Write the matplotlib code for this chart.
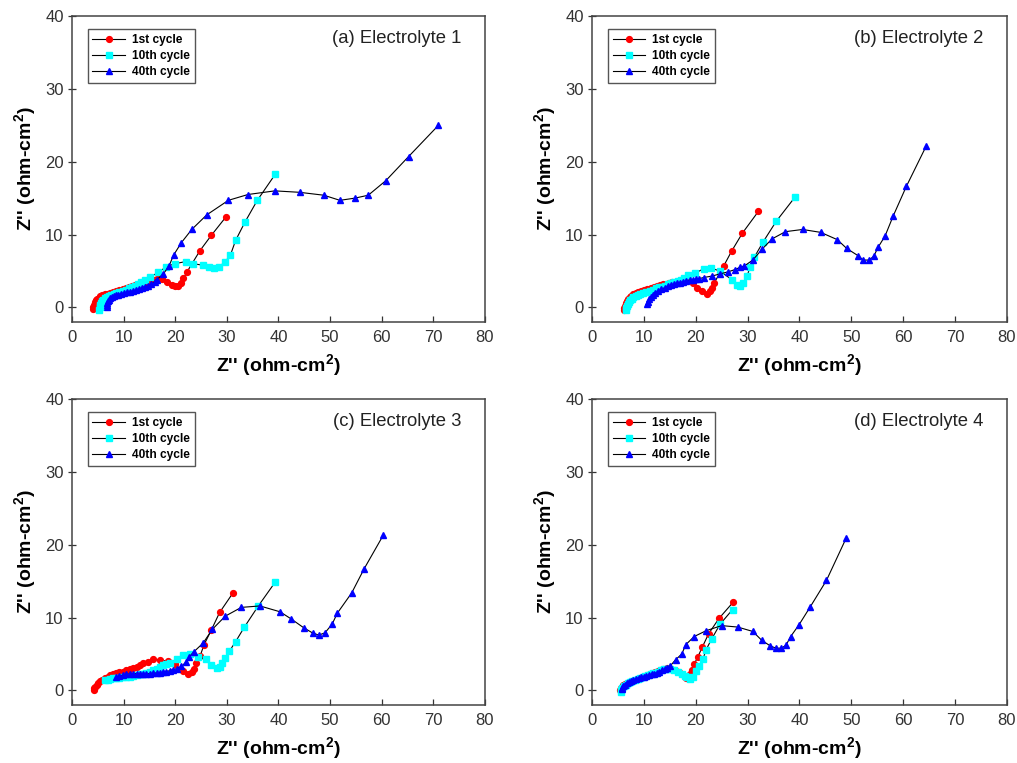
import matplotlib
matplotlib.use("Agg")
import matplotlib.pyplot as plt

plt.rcParams['font.family'] = ['Liberation Sans', 'DejaVu Sans']
plt.rcParams['mathtext.fontset'] = 'custom'
plt.rcParams['mathtext.rm'] = 'Liberation Sans'
plt.rcParams['mathtext.bf'] = 'Liberation Sans:bold'

# (a) Electrolyte 1
a_x1 = [4.1, 4.15, 4.25, 4.4, 4.6, 4.85, 5.15, 5.5, 5.9, 6.35, 6.85, 7.4, 8.0, 8.6, 9.2, 9.8, 10.4, 11.0, 11.6, 12.2,
        12.8, 13.4, 14.0, 14.6, 15.2, 15.8, 16.4, 17.0, 17.5, 18.4, 19.3, 20.0, 20.6, 21.1, 21.6, 22.3, 24.8, 27.0, 29.8]
a_y1 = [-0.2, 0.1, 0.4, 0.7, 0.95, 1.15, 1.35, 1.5, 1.65, 1.8, 1.9, 2.0, 2.15, 2.3, 2.4, 2.5, 2.65, 2.8, 2.9, 3.05,
        3.15, 3.3, 3.4, 3.55, 3.65, 3.8, 3.9, 4.0, 3.9, 3.5, 3.1, 2.9, 3.0, 3.4, 4.0, 4.9, 7.8, 9.9, 12.4]
a_x10 = [5.3, 5.35, 5.45, 5.6, 5.8, 6.05, 6.35, 6.7, 7.1, 7.55, 8.05, 8.6, 9.2, 9.8, 10.4, 11.0, 11.6, 12.2, 12.8, 13.4,
         14.1, 15.2, 16.7, 18.3, 19.9, 22.1, 23.5, 25.3, 26.6, 27.5, 28.5, 29.6, 30.7, 31.7, 33.5, 35.9, 39.4]
a_y10 = [-0.3, 0.0, 0.3, 0.6, 0.85, 1.05, 1.25, 1.4, 1.55, 1.7, 1.85, 2.0, 2.15, 2.3, 2.45, 2.6, 2.8, 3.0, 3.2, 3.5,
         3.8, 4.2, 4.8, 5.6, 6.0, 6.3, 6.0, 5.8, 5.6, 5.4, 5.6, 6.2, 7.2, 9.2, 11.7, 14.7, 18.3]
a_x40 = [6.7, 6.75, 6.85, 7.0, 7.2, 7.45, 7.75, 8.1, 8.5, 8.95, 9.45, 10.0, 10.6, 11.2, 11.8, 12.4, 13.0, 13.6, 14.2, 14.8,
         15.4, 16.0, 16.4, 17.7, 18.8, 19.7, 21.2, 23.2, 26.1, 30.3, 34.1, 39.3, 44.1, 48.8, 51.9, 54.8, 57.4, 60.8, 65.2, 71.0]
a_y40 = [0.1, 0.35, 0.6, 0.85, 1.05, 1.25, 1.4, 1.55, 1.65, 1.75, 1.85, 1.95, 2.05, 2.15, 2.25, 2.4, 2.5, 2.65, 2.8, 3.0,
         3.2, 3.5, 3.8, 4.6, 5.7, 7.2, 8.9, 10.7, 12.7, 14.7, 15.5, 16.0, 15.8, 15.4, 14.7, 15.0, 15.4, 17.4, 20.7, 25.0]

# (b) Electrolyte 2
b_x1 = [6.2, 6.25, 6.35, 6.5, 6.7, 6.95, 7.25, 7.6, 8.0, 8.45, 8.95, 9.5, 10.1, 10.7, 11.3, 11.9, 12.5, 13.1, 13.7, 14.3,
        14.9, 15.5, 16.1, 16.7, 17.3, 17.9, 18.6, 19.4, 20.3, 21.2, 22.1, 22.8, 23.1, 23.6, 25.4, 26.9, 29.0, 32.1]
b_y1 = [-0.4, -0.1, 0.25, 0.6, 0.9, 1.15, 1.4, 1.6, 1.8, 1.95, 2.1, 2.25, 2.4, 2.55, 2.7, 2.85, 2.95, 3.05, 3.15, 3.25,
        3.35, 3.45, 3.55, 3.6, 3.7, 3.75, 3.75, 3.3, 2.7, 2.2, 1.9, 2.2, 2.6, 3.4, 5.7, 7.7, 10.2, 13.2]
b_x10 = [6.6, 6.65, 6.75, 6.9, 7.1, 7.35, 7.65, 8.0, 8.4, 8.85, 9.35, 9.9, 10.5, 11.1, 11.7, 12.3, 12.9, 13.5, 14.1, 14.7,
         15.3, 15.9, 16.5, 17.1, 17.8, 18.6, 19.9, 21.5, 23.0, 24.6, 27.0, 28.0, 28.6, 29.2, 29.9, 30.5, 31.3, 33.0, 35.5, 39.2]
b_y10 = [-0.4, -0.1, 0.2, 0.5, 0.8, 1.0, 1.2, 1.4, 1.55, 1.7, 1.85, 2.0, 2.15, 2.3, 2.45, 2.6, 2.75, 2.85, 3.0, 3.15,
         3.3, 3.45, 3.6, 3.8, 4.1, 4.4, 4.7, 5.3, 5.4, 5.0, 3.8, 3.1, 2.9, 3.4, 4.3, 5.6, 6.9, 9.0, 11.8, 15.2]
b_x40 = [10.7, 10.8, 11.0, 11.3, 11.7, 12.2, 12.8, 13.4, 14.0, 14.6, 15.2, 15.8, 16.4, 17.0, 17.6, 18.2, 18.8, 19.4, 20.0,
         20.7, 21.5, 23.1, 24.7, 26.3, 27.6, 28.5, 29.4, 31.0, 32.8, 34.7, 37.3, 40.6, 44.1, 47.3, 49.1, 51.3, 52.3, 53.4,
         54.3, 55.2, 56.5, 58.1, 60.6, 64.4]
b_y40 = [0.5, 0.8, 1.1, 1.4, 1.7, 2.0, 2.25, 2.5, 2.7, 2.9, 3.05, 3.2, 3.3, 3.4, 3.5, 3.6, 3.7, 3.8, 3.85,
         3.95, 4.1, 4.3, 4.6, 4.9, 5.2, 5.5, 5.7, 6.5, 8.0, 9.4, 10.4, 10.7, 10.3, 9.3, 8.1, 7.1, 6.5, 6.5,
         7.0, 8.3, 9.8, 12.6, 16.6, 22.1]

# (c) Electrolyte 3
c_x1 = [4.3, 4.35, 4.5, 4.8, 5.1, 5.4, 5.9, 6.4, 6.9, 7.4, 8.0, 8.6, 9.2, 9.9, 10.5, 11.2, 11.9, 12.5, 13.2, 13.8,
        14.8, 15.7, 17.0, 18.6, 19.9, 21.5, 22.5, 23.2, 23.6, 24.1, 24.8, 25.6, 27.0, 28.6, 31.2]
c_y1 = [0.0, 0.3, 0.5, 0.7, 1.0, 1.3, 1.5, 1.7, 1.9, 2.1, 2.25, 2.4, 2.5, 2.6, 2.75, 2.9, 3.05, 3.2, 3.45, 3.7,
        3.9, 4.3, 4.2, 4.0, 3.6, 2.7, 2.3, 2.6, 2.9, 3.8, 4.7, 6.3, 8.3, 10.7, 13.4]
c_x10 = [6.4, 6.9, 7.4, 8.0, 8.6, 9.2, 9.9, 10.5, 11.2, 11.8, 12.5, 13.1, 13.8, 14.4, 15.1, 15.7, 16.4, 17.0, 17.7, 18.3,
         18.9, 20.3, 21.5, 22.9, 24.4, 25.9, 27.0, 28.0, 28.6, 29.1, 29.7, 30.5, 31.7, 33.4, 36.1, 39.4]
c_y10 = [1.4, 1.5, 1.6, 1.65, 1.7, 1.75, 1.8, 1.85, 1.9, 2.0, 2.1, 2.2, 2.3, 2.45, 2.6, 2.8, 3.0, 3.25, 3.5, 3.65,
         3.8, 4.3, 4.9, 5.0, 4.6, 4.3, 3.5, 3.1, 3.2, 3.7, 4.4, 5.4, 6.7, 8.7, 11.6, 14.9]
c_x40 = [8.6, 9.2, 9.9, 10.5, 11.2, 11.8, 12.5, 13.1, 13.8, 14.4, 15.1, 15.7, 16.4, 17.0, 17.7, 18.3, 18.9, 19.6, 20.3,
         21.2, 22.1, 22.7, 23.6, 25.4, 27.2, 29.7, 32.8, 36.4, 40.3, 42.5, 44.9, 46.6, 47.8, 49.0, 50.4, 51.4, 54.2, 56.6, 60.3]
c_y40 = [1.8, 2.0, 2.1, 2.2, 2.3, 2.3, 2.3, 2.3, 2.3, 2.3, 2.3, 2.35, 2.4, 2.45, 2.5, 2.6, 2.7, 2.85, 3.0,
         3.3, 3.9, 4.6, 5.3, 6.5, 8.4, 10.2, 11.4, 11.6, 10.8, 9.8, 8.6, 7.9, 7.6, 7.9, 9.1, 10.6, 13.4, 16.7, 21.3]

# (d) Electrolyte 4
d_x1 = [5.4, 5.5, 5.7, 6.0, 6.4, 6.8, 7.2, 7.7, 8.2, 8.7, 9.2, 9.7, 10.2, 10.7, 11.2, 11.7, 12.2, 12.7, 13.2, 13.7,
        14.4, 15.2, 16.0, 16.7, 17.3, 18.1, 18.9, 19.2, 19.7, 20.4, 21.3, 22.5, 24.5, 27.2]
d_y1 = [0.1, 0.3, 0.5, 0.7, 0.9, 1.05, 1.2, 1.35, 1.5, 1.6, 1.75, 1.85, 2.0, 2.1, 2.25, 2.4, 2.5, 2.65, 2.8, 2.95,
        3.1, 3.0, 2.8, 2.5, 2.2, 1.7, 2.2, 2.8, 3.6, 4.6, 6.0, 7.8, 9.9, 12.1]
d_x10 = [5.5, 5.6, 5.8, 6.1, 6.5, 6.9, 7.3, 7.8, 8.3, 8.8, 9.3, 9.8, 10.3, 10.8, 11.3, 11.8, 12.3, 12.8, 13.3, 13.8,
         14.4, 15.0, 15.8, 16.6, 17.3, 17.9, 18.4, 18.9, 19.5, 20.1, 20.7, 21.4, 22.0, 23.1, 24.7, 27.1]
d_y10 = [-0.2, 0.1, 0.35, 0.6, 0.8, 1.0, 1.15, 1.3, 1.45, 1.6, 1.7, 1.85, 1.95, 2.1, 2.2, 2.35, 2.45, 2.6, 2.75, 2.9,
         3.0, 3.0, 2.8, 2.6, 2.3, 2.0, 1.8, 1.6, 1.9, 2.7, 3.3, 4.3, 5.6, 7.1, 9.1, 11.1]
d_x40 = [5.7, 5.8, 6.0, 6.3, 6.7, 7.1, 7.5, 8.0, 8.5, 9.0, 9.5, 10.0, 10.5, 11.0, 11.5, 12.0, 12.5, 13.0, 13.5, 14.0,
         14.5, 15.0, 16.1, 17.3, 18.1, 19.7, 22.0, 25.0, 28.1, 31.0, 32.7, 34.4, 35.5, 36.5, 37.4, 38.3, 39.9, 42.1, 45.2, 49.0]
d_y40 = [0.2, 0.4, 0.6, 0.8, 1.0, 1.15, 1.3, 1.45, 1.6, 1.7, 1.8, 1.9, 2.0, 2.1, 2.2, 2.3, 2.45, 2.6, 2.75, 2.9,
         3.1, 3.3, 4.2, 5.0, 6.3, 7.4, 8.2, 8.9, 8.7, 8.1, 6.9, 6.1, 5.8, 5.8, 6.2, 7.4, 9.0, 11.5, 15.1, 20.9]

titles = ['(a) Electrolyte 1', '(b) Electrolyte 2', '(c) Electrolyte 3', '(d) Electrolyte 4']
labels = ['1st cycle', '10th cycle', '40th cycle']
panels = [
    [(a_x1, a_y1), (a_x10, a_y10), (a_x40, a_y40)],
    [(b_x1, b_y1), (b_x10, b_y10), (b_x40, b_y40)],
    [(c_x1, c_y1), (c_x10, c_y10), (c_x40, c_y40)],
    [(d_x1, d_y1), (d_x10, d_y10), (d_x40, d_y40)],
]

styles = [('o', '#ff0000', 4.2), ('s', '#00ffff', 3.8), ('^', '#0000ff', 4.8)]

# axes boxes in figure fractions: left, bottom, width, height
boxes = [
    [0.0708, 0.578, 0.406, 0.401],
    [0.5821, 0.578, 0.408, 0.401],
    [0.0708, 0.076, 0.406, 0.401],
    [0.5821, 0.076, 0.408, 0.401],
]

fig = plt.figure(figsize=(10.17, 7.63), dpi=100)
label_txt = r"Z'' (ohm-cm$\mathbf{^2}$)"

for idx in range(4):
    ax = fig.add_axes(boxes[idx])
    for (xs, ys), (mk, col, ms), lab in zip(panels[idx], styles, labels):
        ax.plot(xs, ys, color='black', linewidth=0.8, marker=mk, markersize=ms,
                markerfacecolor=col, markeredgecolor=col, label=lab)

    ax.set_xlim(0, 80)
    ax.set_ylim(-2, 40)
    ax.set_xticks(range(0, 81, 10))
    ax.set_yticks(range(0, 41, 10))
    ax.tick_params(axis='x', direction='in', length=4, width=0.9, labelsize=12, colors='#333333', pad=6)
    ax.tick_params(axis='y', direction='inout', length=6, width=0.9, labelsize=12, colors='#333333', pad=3)
    for sp in ax.spines.values():
        sp.set_color('#444444')
        sp.set_linewidth(1.1)

    ax.set_xlabel(label_txt, fontsize=14, fontweight='bold', labelpad=5)
    ax.set_ylabel(label_txt, fontsize=14, fontweight='bold', labelpad=5)

    ax.text(0.944, 0.928, titles[idx], transform=ax.transAxes, ha='right', va='center',
            fontsize=13.3, color='#222222')

    leg = ax.legend(loc='upper left', bbox_to_anchor=(0.038, 0.957),
                    prop={'weight': 'bold', 'size': 8.6}, handlelength=2.7, handletextpad=0.6,
                    labelspacing=0.35, borderpad=0.4, fancybox=False, framealpha=1,
                    borderaxespad=0)
    leg.get_frame().set_edgecolor('#555555')
    leg.get_frame().set_linewidth(1.0)

fig.savefig('out.png', dpi=100)
